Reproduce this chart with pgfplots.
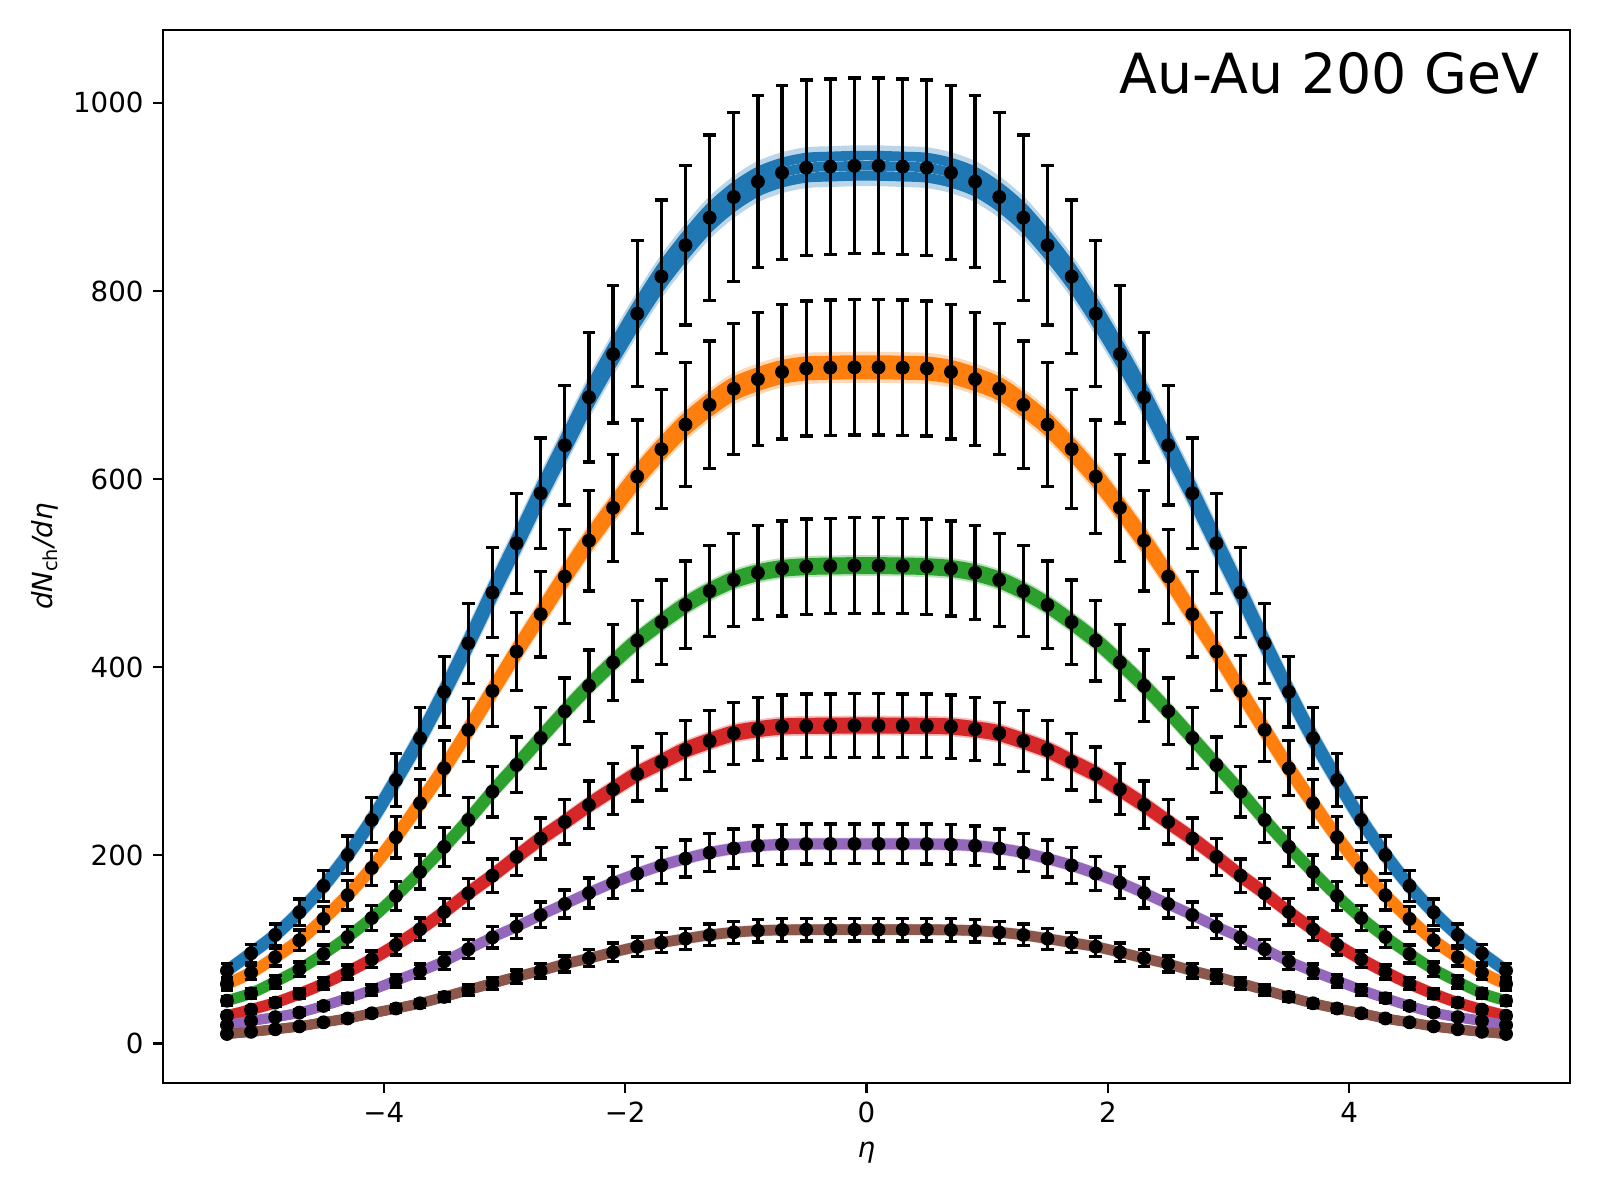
\documentclass[border=0pt]{standalone}
\usepackage{fontspec}
\setmainfont{DejaVu Sans}
\usepackage{pgfplots}
\pgfplotsset{compat=1.18}
\usepackage{pgfplotstable}
\definecolor{C0}{HTML}{1F77B4}
\definecolor{C1}{HTML}{FF7F0E}
\definecolor{C2}{HTML}{2CA02C}
\definecolor{C3}{HTML}{D62728}
\definecolor{C4}{HTML}{9467BD}
\definecolor{C5}{HTML}{8C564B}

\pgfplotstableread{
eta b o g r p n
-5.3 77.4 63.3 45.5 29.5 19.5 10.1
-5.1 95.9 75.3 53.4 36.0 24.0 12.4
-4.9 115.4 91.7 65.7 43.4 28.0 15.1
-4.7 139.5 109.7 78.9 52.8 32.8 18.2
-4.5 167.5 132.4 95.2 63.5 39.9 22.5
-4.3 200.4 157.6 113.2 76.0 48.1 26.6
-4.1 237.6 186.6 133.4 89.5 56.9 32.1
-3.9 280.0 219.2 156.8 104.7 66.8 37.2
-3.7 324.5 255.4 182.3 121.4 76.8 42.7
-3.5 373.7 292.6 209.0 139.8 87.3 49.5
-3.3 425.5 333.3 237.6 159.7 100.2 56.9
-3.1 479.3 374.8 267.7 178.4 112.8 64.0
-2.9 531.8 416.6 296.1 198.4 124.2 71.0
-2.7 585.0 456.4 324.8 217.8 136.6 77.4
-2.5 636.0 496.4 353.2 235.5 148.3 84.5
-2.3 687.0 534.5 380.3 253.6 160.0 90.6
-2.1 732.8 569.5 405.1 270.3 171.0 97.0
-1.9 775.8 602.6 428.3 286.5 180.6 102.9
-1.7 815.3 631.8 448.0 299.3 189.3 107.2
-1.5 848.6 658.0 466.2 312.1 196.5 111.4
-1.3 877.9 678.9 481.0 321.6 202.8 115.4
-1.1 899.9 696.0 492.8 329.8 207.3 118.2
-0.9 916.2 706.2 500.4 334.1 210.2 119.9
-0.7 925.7 713.9 505.0 336.9 211.6 120.7
-0.5 931.0 717.6 506.9 337.6 212.1 121.0
-0.3 932.2 718.4 507.6 337.8 212.2 121.1
-0.1 933.0 718.8 508.0 338.0 212.2 121.1
0.1 933.0 718.8 508.0 338.0 212.2 121.1
0.3 932.2 718.4 507.6 337.8 212.2 121.1
0.5 931.0 717.6 506.9 337.6 212.1 121.0
0.7 925.7 713.9 505.0 336.9 211.6 120.7
0.9 916.2 706.2 500.4 334.1 210.2 119.9
1.1 899.9 696.0 492.8 329.8 207.3 118.2
1.3 877.9 678.9 481.0 321.6 202.8 115.4
1.5 848.6 658.0 466.2 312.1 196.5 111.4
1.7 815.3 631.8 448.0 299.3 189.3 107.2
1.9 775.8 602.6 428.3 286.5 180.6 102.9
2.1 732.8 569.5 405.1 270.3 171.0 97.0
2.3 687.0 534.5 380.3 253.6 160.0 90.6
2.5 636.0 496.4 353.2 235.5 148.3 84.5
2.7 585.0 456.4 324.8 217.8 136.6 77.4
2.9 531.8 416.6 296.1 198.4 124.2 71.0
3.1 479.3 374.8 267.7 178.4 112.8 64.0
3.3 425.5 333.3 237.6 159.7 100.2 56.9
3.5 373.7 292.6 209.0 139.8 87.3 49.5
3.7 324.5 255.4 182.3 121.4 76.8 42.7
3.9 280.0 219.2 156.8 104.7 66.8 37.2
4.1 237.6 186.6 133.4 89.5 56.9 32.1
4.3 200.4 157.6 113.2 76.0 48.1 26.6
4.5 167.5 132.4 95.2 63.5 39.9 22.5
4.7 139.5 109.7 78.9 52.8 32.8 18.2
4.9 115.4 91.7 65.7 43.4 28.0 15.1
5.1 95.9 75.3 53.4 36.0 24.0 12.4
5.3 77.4 63.3 45.5 29.5 19.5 10.1
}\data

% band: colour, column, outer up, outer down, inner up, inner down
\newcommand{\band}[6]{%
  \addplot[#1, line width=3.5pt, opacity=0.3, smooth, yscale=#3] table[x=eta,y=#2]{\data};
  \addplot[#1, line width=3.5pt, opacity=0.3, smooth, yscale=#4] table[x=eta,y=#2]{\data};
  \addplot[#1, line width=3.5pt, smooth, yscale=#5] table[x=eta,y=#2]{\data};
  \addplot[#1, line width=3.5pt, smooth, yscale=#6] table[x=eta,y=#2]{\data};
  \addplot[#1, line width=3.5pt, smooth] table[x=eta,y=#2]{\data};
}
\newcommand{\pts}[1]{%
  \addplot[only marks, mark=*, mark size=2.3pt, black,
    error bars/.cd, y dir=both, y fixed relative=0.1,
    error bar style={line width=1.2pt, black},
    error mark options={rotate=90, black, line width=1.2pt, mark size=2.3pt}]
    table[x=eta,y=#1]{\data};
}

\begin{document}
\begin{tikzpicture}
\path[use as bounding box] (-58.90pt,-42.28pt) rectangle (519.26pt,391.34pt);
\begin{axis}[
  at={(0,0)}, anchor=south west,
  scale only axis, width=508.42pt, height=380.50pt,
  xmin=-5.83, xmax=5.83, ymin=-42, ymax=1077.4,
  xtick={-4,-2,0,2,4}, xticklabels={−4,−2,0,2,4},
  ytick={0,200,400,600,800,1000}, yticklabels={0,200,400,600,800,1000},
  tick pos=left, tick align=outside, major tick length=3.5pt,
  tick style={black, line width=0.8pt},
  axis line style={line width=0.8pt, black},
  ticklabel style={font=\fontsize{10}{12}\selectfont},
  /pgf/number format/assume math mode=true,
  xlabel={\itshape η},
  ylabel={\itshape dN\textsubscript{\upshape ch}/dη},
  every axis x label/.style={at={(axis description cs:0.5,0)}, anchor=center, yshift=-25pt},
  every axis y label/.style={at={(axis description cs:0,0.5)}, anchor=center, xshift=-42.6pt, rotate=90},
  label style={font=\fontsize{10}{12}\selectfont},
]
\band{C0}{b}{1.017}{0.983}{1.011}{0.989}
\band{C1}{o}{1.015}{0.985}{1.010}{0.990}
\band{C2}{g}{1.011}{0.989}{1.007}{0.993}
\band{C3}{r}{1.014}{0.986}{1.009}{0.991}
\band{C4}{p}{1.006}{0.994}{1.003}{0.997}
\band{C5}{n}{1.006}{0.994}{1.003}{0.997}
\pts{b}
\pts{o}
\pts{g}
\pts{r}
\pts{p}
\pts{n}
\node[anchor=base east, inner sep=0pt, font=\fontsize{20}{24}\selectfont, xshift=-10.84pt, yshift=-22.9pt] at (rel axis cs:1,1) {Au-Au 200 GeV};
\end{axis}
\end{tikzpicture}
\end{document}
